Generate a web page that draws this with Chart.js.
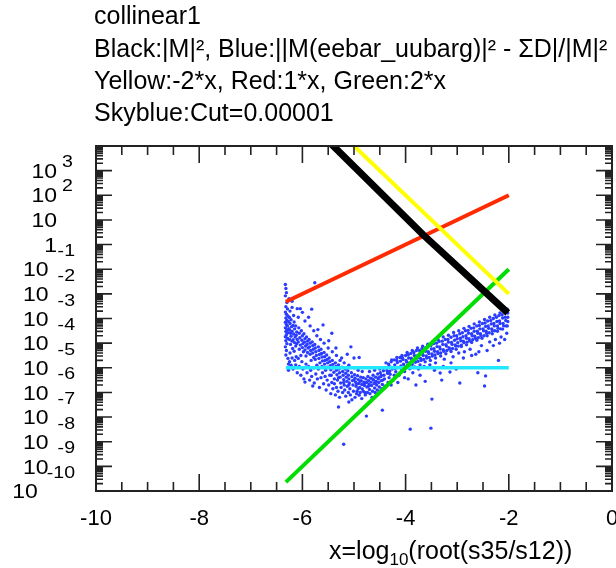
<!DOCTYPE html>
<html><head><meta charset="utf-8">
<script src="https://cdn.jsdelivr.net/npm/chart.js@4/dist/chart.umd.min.js"></script>
<style>html,body{margin:0;padding:0;background:#fff;overflow:hidden}#wrap{width:616px;height:568px}canvas{display:block}</style>
</head><body>
<div id="wrap"><canvas id="c" width="616" height="568"></canvas></div>
<script>
// ---- text ----
const titleLines = [
  "collinear1",
  "Black:|M|\u00B2, Blue:||M(eebar_uubarg)|\u00B2 - \u03A3D|/|M|\u00B2",
  "Yellow:-2*x, Red:1*x, Green:2*x",
  "Skyblue:Cut=0.00001"
];
const xAxisTitle = ["x=log", "10", "(root(s35/s12))"];
const xTickValues = [-10, -8, -6, -4, -2, 0];
const xTickLabels = ["-10", "-8", "-6", "-4", "-2", "0"];
const yTickExponents = [3, 2, 1, 0, -1, -2, -3, -4, -5, -6, -7, -8, -9, -10];

// ---- lines (x, log10 y) ----
const lineXs = [-6.32, -2.0];
const cyanLogY = [-5, -5];
const redLogY = [-2.32, 2.0];
const greenLogY = [-9.64, -1.0];
const yellowX = [-5.1, -2.0];
const yellowLogY = [4.2, -2.0];
const blackX = [-5.45, -3.66, -2.02];
const blackLogY = [4.1, 0.4, -2.77];

// ---- blue scatter, [x, log10 y] ----
const blueLeft = [
  [-6.33,-1.62],[-6.32,-1.78],[-6.31,-1.95],[-6.33,-2.08],[-6.3,-2.35],[-6.32,-2.52],[-6.29,-2.61],[-6.33,-2.74],
  [-6.31,-2.83],[-6.28,-2.9],[-6.32,-2.98],[-6.3,-3.07],[-6.33,-3.15],[-6.27,-3.12],[-6.31,-3.24],[-6.29,-3.3],
  [-6.33,-3.38],[-6.3,-3.45],[-6.26,-3.41],[-6.32,-3.53],[-6.28,-3.58],[-6.31,-3.66],[-6.33,-3.74],[-6.29,-3.8],
  [-6.32,-3.9],[-6.3,-4.02],[-6.33,-4.15],[-6.31,-4.3],[-6.32,-4.48],[-6.24,-2.7],[-6.25,-2.96],[-6.22,-3.05],
  [-6.24,-3.2],[-6.21,-3.33],[-6.25,-3.47],[-6.23,-3.6],[-6.2,-3.52],[-6.22,-3.72],[-6.25,-3.85],[-6.2,-3.92],
  [-6.23,-4.05],[-6.19,-4.22],[-6.24,-4.4],[-6.17,-2.88],[-6.16,-3.14],[-6.18,-3.28],[-6.15,-3.42],[-6.17,-3.63],
  [-6.14,-3.75],[-6.18,-3.86],[-6.15,-3.98],[-6.13,-4.12],[-6.16,-4.33],[-6.12,-4.55],[-6.13,-3.3],[-6.11,-3.55],
  [-6.12,-3.68],[-6.1,-3.85],[-6.11,-4.02],[-6.27,-5.1],[-6.26,-2.2],[-6.2,-2.55],[-6.2,-2.3],[-6.1,-2.6]
];
const blueMid = [
  [-6.08,-2.95],[-6.07,-3.38],[-6.06,-3.6],[-6.05,-3.78],[-6.08,-3.95],[-6.04,-4.08],[-6.06,-4.25],[-6.03,-4.5],
  [-6.02,-3.5],[-6.0,-3.7],[-6.01,-3.88],[-5.99,-4.02],[-6.0,-4.18],[-5.98,-4.35],[-5.97,-3.62],[-5.95,-3.82],
  [-5.96,-3.96],[-5.94,-4.12],[-5.95,-4.28],[-5.93,-4.52],[-5.92,-3.75],[-5.9,-3.92],[-5.91,-4.05],[-5.89,-4.2],
  [-5.9,-4.38],[-5.88,-2.95],[-5.87,-3.85],[-5.85,-4.0],[-5.86,-4.15],[-5.84,-4.3],[-5.85,-4.45],[-5.83,-4.7],
  [-5.81,-3.95],[-5.8,-4.1],[-5.79,-4.25],[-5.8,-4.4],[-5.78,-4.58],[-5.76,-1.55],[-5.76,-4.05],[-5.75,-4.2],
  [-5.74,-4.35],[-5.73,-4.5],[-5.75,-4.66],[-5.72,-4.9],[-5.7,-3.45],[-5.69,-4.15],[-5.68,-4.3],[-5.67,-4.46],
  [-5.68,-4.62],[-5.66,-4.8],[-5.64,-4.25],[-5.63,-4.42],[-5.62,-4.56],[-5.61,-4.72],[-5.62,-4.95],[-5.6,-3.26],
  [-5.58,-4.38],[-5.57,-4.55],[-5.56,-4.7],[-5.57,-4.85],[-5.55,-5.1],[-5.53,-4.48],[-5.52,-4.66],[-5.51,-4.8],
  [-5.52,-4.98],[-6.04,-2.6],[-5.95,-5.58],[-5.8,-5.74],[-5.82,-2.62],[-6.0,-2.75],[-5.95,-3.1],[-5.85,-3.3],
  [-5.78,-3.5],[-5.72,-3.7],[-5.65,-3.85],[-5.58,-4.0]
];
const blueLower = [
  [-6.28,-4.62],[-6.25,-4.75],[-6.22,-4.9],[-6.27,-4.85],[-6.2,-4.6],[-6.18,-5.05],[-6.15,-4.7],[-6.13,-4.88],
  [-6.1,-5.2],[-6.08,-4.62],[-6.06,-4.95],[-6.03,-5.3],[-6.01,-4.75],[-5.99,-5.05],[-5.97,-5.45],[-5.93,-4.85],
  [-5.91,-5.2],[-5.88,-4.95],[-5.86,-5.5],[-5.84,-5.1],[-5.82,-5.35],[-5.78,-5.0],[-5.77,-5.62],[-5.74,-5.25],
  [-5.71,-5.45],[-5.69,-5.05],[-5.67,-5.8],[-5.64,-5.4],[-5.61,-5.2],[-5.59,-5.65],[-5.56,-5.35],[-5.54,-5.9],
  [-5.52,-5.5],[-5.49,-5.7],[-5.47,-5.3],[-5.45,-6.05],[-5.43,-5.6],[-5.41,-5.85],[-5.38,-5.65],[-5.36,-6.1],
  [-5.34,-5.8],[-5.31,-5.95],[-5.28,-6.2],[-5.25,-5.8],[-5.22,-6.0],[-5.18,-5.9],[-5.16,-6.15],[-5.13,-5.75],
  [-5.11,-6.0],[-5.07,-6.1],[-5.04,-6.3],[-5.01,-5.95],[-4.98,-6.2],[-4.95,-6.05],[-4.92,-5.85],[-4.88,-6.0],
  [-4.85,-6.25],[-4.82,-5.95],[-4.78,-6.1],[-4.74,-6.0],[-4.69,-6.05],[-4.64,-5.95],[-4.59,-6.0],[-4.55,-5.9],
  [-4.5,-5.95],[-4.46,-5.85],[-4.4,-5.75],[-4.34,-5.6],[-4.28,-5.7]
];
const blueValley = [
  [-5.49,-3.9],[-5.48,-4.6],[-5.47,-4.75],[-5.46,-4.92],[-5.45,-5.08],[-5.44,-5.3],[-5.43,-3.6],[-5.42,-4.7],
  [-5.41,-4.86],[-5.4,-5.0],[-5.39,-5.18],[-5.38,-5.45],[-5.36,-4.8],[-5.35,-4.95],[-5.34,-5.1],[-5.33,-5.28],
  [-5.32,-5.5],[-5.35,-4.2],[-5.3,-4.88],[-5.29,-5.05],[-5.28,-5.2],[-5.27,-5.38],[-5.26,-5.62],[-5.3,-6.59],
  [-5.24,-4.6],[-5.23,-4.98],[-5.22,-5.15],[-5.21,-5.3],[-5.2,-5.48],[-5.19,-5.7],[-5.17,-5.05],[-5.16,-5.22],
  [-5.15,-5.38],[-5.14,-5.55],[-5.13,-4.45],[-5.12,-5.12],[-5.11,-5.3],[-5.1,-5.45],[-5.09,-5.62],[-5.08,-5.85],
  [-5.1,-6.39],[-5.06,-4.15],[-5.05,-5.2],[-5.04,-5.36],[-5.03,-5.52],[-5.02,-5.7],[-5.0,-4.6],[-4.99,-5.28],
  [-4.98,-5.42],[-4.97,-5.58],[-4.96,-5.75],[-4.94,-5.95],[-4.93,-5.32],[-4.92,-5.48],[-4.91,-5.64],[-4.9,-4.58],
  [-4.9,-6.11],[-4.89,-5.8],[-4.87,-5.38],[-4.86,-5.52],[-4.85,-5.68],[-4.84,-5.86],[-4.82,-5.4],[-4.81,-5.58],
  [-4.8,-5.72],[-4.79,-6.0],[-4.77,-5.45],[-4.76,-5.6],[-4.76,-6.96],[-4.75,-5.78],[-4.73,-5.35],[-4.72,-5.52],
  [-4.71,-5.66],[-4.7,-5.88],[-4.68,-5.42],[-4.67,-5.58],[-4.66,-5.72],[-4.65,-6.2],[-4.63,-5.3],[-4.62,-5.5],
  [-4.61,-5.64],[-4.6,-5.82],[-4.58,-5.38],[-4.57,-5.55],[-4.56,-5.7],[-4.54,-5.25],[-4.53,-5.45],[-4.52,-5.6],
  [-4.51,-5.78],[-4.49,-5.2],[-4.48,-5.36],[-4.47,-5.52],[-4.45,-5.68],[-4.45,-6.72],[-4.43,-5.12],[-4.42,-5.3],
  [-4.41,-5.45],[-5.2,-8.1],[-5.5,-4.2],[-5.42,-4.35],[-5.34,-4.5],[-5.27,-4.7],[-5.19,-4.8],[-5.1,-4.9],
  [-5.0,-5.0],[-4.92,-5.1],[-4.84,-5.15],[-4.7,-5.15],[-4.6,-5.1],[-4.5,-5.05],[-5.3,-5.4],[-5.2,-5.6],
  [-5.1,-5.7],[-5.0,-5.5],[-4.95,-5.65],[-4.88,-5.55],[-4.8,-5.65],[-4.72,-5.75],[-4.64,-5.45],[-4.58,-5.6],
  [-4.52,-5.4],[-4.47,-5.3],[-4.44,-5.5]
];
const blueRight = [
  [-4.38,-4.8],[-4.37,-5.02],[-4.35,-5.22],[-4.36,-5.12],[-4.33,-4.85],[-4.32,-4.93],[-4.31,-5.14],[-4.3,-5.26],
  [-4.28,-4.76],[-4.27,-4.99],[-4.26,-5.05],[-4.24,-5.5],[-4.22,-4.68],[-4.21,-4.88],[-4.2,-5.03],[-4.19,-5.16],
  [-4.17,-4.7],[-4.16,-4.79],[-4.15,-4.99],[-4.13,-5.3],[-4.11,-4.58],[-4.1,-4.73],[-4.09,-4.93],[-4.08,-5.04],
  [-4.06,-4.6],[-4.05,-4.66],[-4.04,-4.85],[-4.03,-4.96],[-4.02,-5.4],[-4.0,-4.5],[-3.99,-4.7],[-3.98,-4.77],
  [-3.97,-4.92],[-3.95,-4.47],[-3.94,-4.6],[-3.93,-4.8],[-3.92,-4.88],[-3.91,-7.49],[-3.9,-4.42],[-3.89,-4.61],
  [-3.88,-4.68],[-3.87,-4.86],[-3.86,-5.2],[-3.84,-4.38],[-3.83,-4.5],[-3.82,-4.7],[-3.81,-4.78],[-3.79,-4.3],
  [-3.78,-4.52],[-3.77,-4.6],[-3.76,-4.74],[-3.75,-5.05],[-3.73,-4.3],[-3.72,-4.41],[-3.71,-4.62],[-3.7,-4.7],
  [-3.68,-4.22],[-3.67,-4.44],[-3.66,-4.5],[-3.65,-4.66],[-3.64,-4.95],[-3.62,-4.2],[-3.61,-4.33],[-3.6,-4.52],
  [-3.59,-4.6],[-3.57,-4.12],[-3.56,-4.35],[-3.55,-4.42],[-3.54,-4.58],[-3.53,-4.88],[-3.51,-7.45],[-3.51,-4.1],
  [-3.5,-4.24],[-3.49,-4.44],[-3.48,-4.52],[-3.49,-6.27],[-3.46,-4.02],[-3.45,-4.23],[-3.44,-4.33],[-3.43,-4.48],
  [-3.42,-4.8],[-3.4,-4.0],[-3.39,-4.14],[-3.38,-4.35],[-3.37,-4.42],[-3.35,-3.93],[-3.34,-4.15],[-3.33,-4.24],
  [-3.32,-4.4],[-3.33,-5.21],[-3.29,-3.92],[-3.28,-4.05],[-3.27,-4.27],[-3.26,-4.33],[-3.25,-4.65],[-3.23,-3.85],
  [-3.22,-4.06],[-3.21,-4.12],[-3.2,-4.3],[-3.18,-3.85],[-3.17,-3.96],[-3.16,-4.18],[-3.15,-4.24],[-3.14,-5.17],
  [-3.12,-3.76],[-3.11,-3.97],[-3.1,-4.05],[-3.09,-4.22],[-3.08,-4.55],[-3.06,-3.7],[-3.05,-3.88],[-3.04,-4.07],
  [-3.03,-4.12],[-3.01,-3.7],[-3.0,-3.82],[-2.99,-3.98],[-2.98,-4.12],[-2.97,-4.4],[-2.95,-5.62],[-2.95,-3.62],
  [-2.94,-3.8],[-2.93,-3.9],[-2.92,-4.08],[-2.9,-3.58],[-2.89,-3.74],[-2.88,-3.92],[-2.87,-3.98],[-2.86,-4.35],
  [-2.84,-3.5],[-2.83,-3.7],[-2.82,-3.8],[-2.81,-3.96],[-2.79,-3.48],[-2.78,-3.6],[-2.77,-3.82],[-2.76,-3.9],
  [-2.75,-4.25],[-2.73,-3.4],[-2.72,-3.62],[-2.71,-3.7],[-2.7,-3.86],[-2.68,-3.38],[-2.67,-3.52],[-2.66,-3.72],
  [-2.65,-3.8],[-2.64,-4.45],[-2.62,-3.3],[-2.61,-3.52],[-2.6,-3.6],[-2.59,-3.78],[-2.57,-3.28],[-2.56,-3.42],
  [-2.55,-3.62],[-2.54,-3.7],[-2.53,-4.1],[-2.51,-3.2],[-2.5,-3.42],[-2.49,-3.5],[-2.48,-3.7],[-2.47,-5.74],
  [-2.46,-3.18],[-2.45,-3.32],[-2.44,-3.52],[-2.43,-3.6],[-2.45,-5.33],[-2.41,-3.1],[-2.4,-3.3],[-2.39,-3.4],
  [-2.38,-3.58],[-2.37,-3.95],[-2.35,-3.08],[-2.34,-3.22],[-2.33,-3.42],[-2.32,-3.5],[-2.3,-3.0],[-2.29,-3.2],
  [-2.28,-3.3],[-2.27,-3.5],[-2.26,-3.85],[-2.24,-2.95],[-2.23,-3.12],[-2.22,-3.3],[-2.21,-3.4],[-2.19,-2.88],
  [-2.18,-3.1],[-2.17,-3.2],[-2.16,-3.42],[-2.15,-3.75],[-2.13,-2.85],[-2.12,-2.98],[-2.11,-3.2],[-2.1,-3.3],
  [-2.08,-2.72],[-2.07,-2.95],[-2.06,-3.08],[-2.05,-3.3],[-2.04,-3.6],[-2.03,-2.62],[-2.02,-2.78],[-2.02,-2.95],
  [-2.02,-3.12],[-2.03,-3.3],[-2.05,-2.68]
];
const blueRightEdges = [
  [-4.27,-4.68],[-4.32,-5.4],[-4.17,-4.58],[-4.22,-5.3],[-4.07,-4.5],[-4.12,-5.25],[-3.97,-4.38],[-4.02,-5.15],
  [-3.87,-4.3],[-3.92,-5.04],[-3.77,-4.2],[-3.82,-4.97],[-3.67,-4.12],[-3.72,-4.88],[-3.57,-4.04],[-3.62,-4.76],
  [-3.47,-3.93],[-3.52,-4.7],[-3.37,-3.86],[-3.42,-4.6],[-3.27,-3.75],[-3.32,-4.52],[-3.17,-3.68],[-3.22,-4.43],
  [-3.07,-3.57],[-3.12,-4.34],[-2.97,-3.5],[-3.02,-4.25],[-2.87,-3.4],[-2.92,-4.14],[-2.77,-3.32],[-2.82,-4.07],
  [-2.67,-3.22],[-2.72,-3.97],[-2.57,-3.14],[-2.62,-3.88],[-2.47,-3.04],[-2.52,-3.8],[-2.37,-2.95],[-2.42,-3.7],
  [-2.27,-2.86],[-2.32,-3.62],[-2.17,-2.77],[-2.22,-3.52],[-2.07,-2.68],[-2.12,-3.43],
  [-4.15,-5.6],[-3.95,-5.45],[-3.72,-5.3],[-3.62,-5.55],[-3.44,-5.1],[-3.27,-4.95],[-3.12,-4.8],[-3.02,-5.05],
  [-2.88,-4.6],[-2.72,-4.5],[-2.58,-4.35],[-2.42,-4.3],[-2.3,-4.1],[-2.18,-4.0],[-2.08,-3.85],[-3.8,-5.7],
  [-3.3,-5.5],[-2.6,-5.2],[-2.2,-4.7]
];

// ---- build point lists ----
const pts = (xs, ls) => xs.map((x, i) => ({x: x, y: Math.pow(10, ls[i])}));
const bluePts = [].concat(blueLeft, blueMid, blueLower, blueValley, blueRight, blueRightEdges)
  .map(p => ({x: p[0], y: Math.pow(10, p[1])}));

const FONT = '"Liberation Sans", Arial, Helvetica, sans-serif';

const decor = {
  id: 'decor',
  afterDraw(chart) {
    const ctx = chart.ctx, xs = chart.scales.x, ys = chart.scales.y, a = chart.chartArea;
    ctx.save();
    ctx.strokeStyle = '#222';
    ctx.fillStyle = '#000';
    // ticks
    ctx.lineWidth = 1.6;
    ctx.beginPath();
    for (let e = -10; e <= 4; e++) {
      const py = ys.getPixelForValue(Math.pow(10, e));
      ctx.moveTo(a.left, py); ctx.lineTo(a.left + 16, py);
      ctx.moveTo(a.right, py); ctx.lineTo(a.right - 16, py);
      if (e < 4) {
        for (let m = 2; m <= 9; m++) {
          const p = ys.getPixelForValue(m * Math.pow(10, e));
          ctx.moveTo(a.left, p); ctx.lineTo(a.left + 7, p);
          ctx.moveTo(a.right, p); ctx.lineTo(a.right - 7, p);
        }
      }
    }
    for (let k = 0; k <= 20; k++) {
      const v = -10 + k * 0.5;
      const px = xs.getPixelForValue(v);
      const len = (k % 4 === 0) ? 17 : 9;
      ctx.moveTo(px, a.bottom); ctx.lineTo(px, a.bottom - len);
      ctx.moveTo(px, a.top); ctx.lineTo(px, a.top + len);
    }
    ctx.stroke();
    // frame
    ctx.lineWidth = 2;
    ctx.strokeRect(a.left, a.top, a.right - a.left, a.bottom - a.top);

    // x tick labels
    ctx.font = '22px ' + FONT;
    ctx.textAlign = 'center';
    ctx.textBaseline = 'alphabetic';
    xTickValues.forEach((v, i) => {
      ctx.fillText(xTickLabels[i], xs.getPixelForValue(v), 525);
    });

    // y tick labels (stretched horizontally, exponent raised)
    const sx = 1.15, esx = 1.15;
    const drawR = (t, xr, yb, font, s) => {
      ctx.save(); ctx.font = font; ctx.textAlign = 'right';
      ctx.translate(xr, yb); ctx.scale(s, 1); ctx.fillText(t, 0, 0); ctx.restore();
    };
    const drawL = (t, xl, yb, font, s) => {
      ctx.save(); ctx.font = font; ctx.textAlign = 'left';
      ctx.translate(xl, yb); ctx.scale(s, 1); ctx.fillText(t, 0, 0); ctx.restore();
    };
    const bf = '20px ' + FONT, ef = '17px ' + FONT;
    yTickExponents.forEach(n => {
      const py = ys.getPixelForValue(Math.pow(10, n));
      const base = py + 7.2;
      if (n === 1) { drawR('10', 57, base, bf, sx); return; }
      if (n === 0) { drawR('1', 57, base, bf, sx); return; }
      const et = String(n);
      if (n > 0) {
        drawR('10', 57, base, bf, sx);
        drawL(et, 62, py - 10 + 6, ef, esx);
      } else {
        ctx.font = ef;
        const w = ctx.measureText(et).width * esx;
        const left = 75 - w;
        drawR(et, 75, py - 19 + 6, ef, esx);
        drawR('10', left - 9, base, bf, sx);
      }
    });

    // titles
    ctx.font = '25px ' + FONT;
    ctx.textAlign = 'left';
    const tb = [24, 57, 89, 121];
    titleLines.forEach((t, i) => ctx.fillText(t, 94, tb[i]));

    // x axis title with subscript
    let x0 = 329; const yb = 559;
    ctx.font = '25px ' + FONT;
    ctx.fillText(xAxisTitle[0], x0, yb); x0 += ctx.measureText(xAxisTitle[0]).width;
    ctx.font = '17px ' + FONT;
    ctx.fillText(xAxisTitle[1], x0, yb + 6); x0 += ctx.measureText(xAxisTitle[1]).width;
    ctx.font = '25px ' + FONT;
    ctx.fillText(xAxisTitle[2], x0, yb);
    ctx.restore();
  }
};

const lineDS = (data, color, w, order) => ({
  data: data, showLine: true, borderColor: color, backgroundColor: color,
  borderWidth: w, pointRadius: 0, clip: 0, order: order, fill: false, tension: 0
});

new Chart(document.getElementById('c'), {
  type: 'scatter',
  data: {
    datasets: [
      lineDS(pts(blackX, blackLogY), '#000000', 7, 1),
      lineDS(pts(yellowX, yellowLogY), '#ffff00', 4, 2),
      lineDS(pts(lineXs, greenLogY), '#00dd00', 4, 3),
      lineDS(pts(lineXs, redLogY), '#ff2a00', 4, 4),
      lineDS(pts(lineXs, cyanLogY), '#22e8ff', 3.5, 5),
      {
        data: bluePts, showLine: false, pointRadius: 1.7, pointBorderWidth: 0,
        backgroundColor: '#2a3cff', borderColor: '#2a3cff', clip: 0, order: 6
      }
    ]
  },
  options: {
    responsive: false, animation: false, devicePixelRatio: 1,
    layout: {padding: {left: 96, right: 1, top: 146, bottom: 77}},
    plugins: {legend: {display: false}, tooltip: {enabled: false}, title: {display: false}},
    scales: {
      x: {type: 'linear', min: -10, max: 0, display: false},
      y: {type: 'logarithmic', min: 1e-10, max: 1e4, display: false}
    }
  },
  plugins: [decor]
});
</script>
</body></html>
